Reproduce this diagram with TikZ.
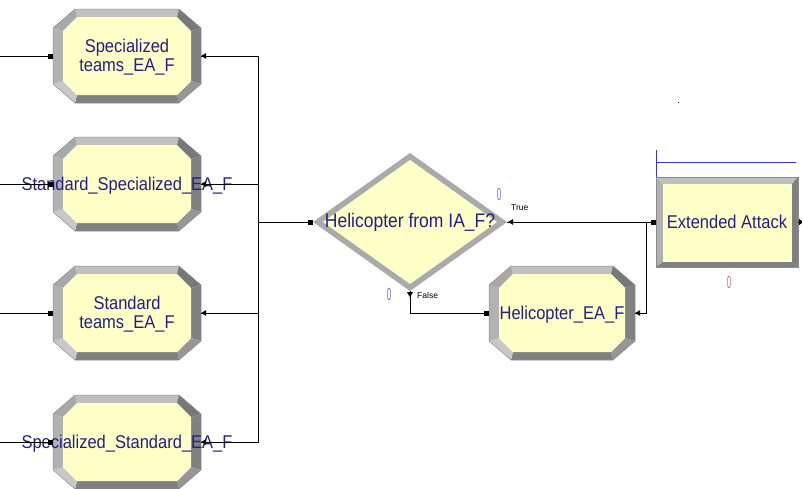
\documentclass[tikz,border=0pt]{standalone}
\usepackage{fontspec}
\setmainfont{Liberation Sans}
\usepackage{graphicx}

\definecolor{fillyel}{RGB}{255,255,200}
\definecolor{bvA}{RGB}{192,192,192}
\definecolor{bvB}{RGB}{178,178,178}
\definecolor{bvC}{RGB}{168,168,168}
\definecolor{bvD}{RGB}{200,200,200}
\definecolor{bvE}{RGB}{128,128,128}
\definecolor{bvF}{RGB}{120,120,120}
\definecolor{bvG}{RGB}{150,150,150}
\definecolor{edgegray}{RGB}{140,140,140}
\definecolor{diagray}{RGB}{170,170,170}
\definecolor{labblue}{RGB}{32,32,135}
\definecolor{cntblue}{RGB}{125,110,210}
\definecolor{cntred}{RGB}{200,120,120}
\definecolor{markblue}{RGB}{50,50,235}

% stretched text block used in the module labels
\newcommand\tallt[1]{\scalebox{1}[1.12]{\begin{tabular}{@{}c@{}}#1\end{tabular}}}
% text that may run past the module outline without widening the node
\newcommand\wide[1]{\makebox[0pt]{#1}}

% octagonal bevelled module frame: centre x, centre y, half width, half height
\newcommand\octframe[4]{%
\begin{scope}[shift={(#1,#2)}]
  \pgfmathsetmacro\oW{#3}\pgfmathsetmacro\oH{#4}
  \pgfmathsetmacro\iW{#3-10}\pgfmathsetmacro\iH{#4-8}
  \coordinate (o1) at (-\oW+22,-\oH); \coordinate (o2) at (\oW-22,-\oH);
  \coordinate (o3) at (\oW,-\oH+19);  \coordinate (o4) at (\oW,\oH-19);
  \coordinate (o5) at (\oW-22,\oH);   \coordinate (o6) at (-\oW+22,\oH);
  \coordinate (o7) at (-\oW,\oH-19);  \coordinate (o8) at (-\oW,-\oH+19);
  \coordinate (i1) at (-\iW+14,-\iH); \coordinate (i2) at (\iW-14,-\iH);
  \coordinate (i3) at (\iW,-\iH+14);  \coordinate (i4) at (\iW,\iH-14);
  \coordinate (i5) at (\iW-14,\iH);   \coordinate (i6) at (-\iW+14,\iH);
  \coordinate (i7) at (-\iW,\iH-14);  \coordinate (i8) at (-\iW,-\iH+14);
  \fill[bvA] (o1)--(o2)--(i2)--(i1)--cycle;
  \fill[bvF] (o2)--(o3)--(i3)--(i2)--cycle;
  \fill[bvE] (o3)--(o4)--(i4)--(i3)--cycle;
  \fill[bvG] (o4)--(o5)--(i5)--(i4)--cycle;
  \fill[bvE] (o5)--(o6)--(i6)--(i5)--cycle;
  \fill[bvD] (o6)--(o7)--(i7)--(i6)--cycle;
  \fill[bvB] (o7)--(o8)--(i8)--(i7)--cycle;
  \fill[bvC] (o8)--(o1)--(i1)--(i8)--cycle;
  \fill[fillyel] (i1)--(i2)--(i3)--(i4)--(i5)--(i6)--(i7)--(i8)--cycle;
  \draw[edgegray, line width=0.5pt] (o1)--(o2)--(o3)--(o4)--(o5)--(o6)--(o7)--(o8)--cycle;
\end{scope}}

\tikzset{
  modtext/.style={inner sep=0pt, text=labblue, font=\fontsize{16.5}{17}\selectfont,
    minimum width=148pt, minimum height=94pt, text depth=0pt},
  modlabel/.style={inner sep=0pt, text=labblue, font=\fontsize{16.5}{17}\selectfont, yshift=-2.5pt},
  conn/.style={black, line width=0.9pt},
  entrymark/.style={fill=black},
  exitmark/.style={fill=black},
  smalllab/.style={font=\fontsize{8.5}{9}\selectfont, inner sep=0pt},
  counter/.style={font=\fontsize{16}{16}\selectfont, inner sep=0pt},
}

\begin{document}
\begin{tikzpicture}[x=1pt, y=-1pt]
\useasboundingbox (0,0) rectangle (802,488);
\clip (0,0) rectangle (802,488);
\fill[white] (0,0) rectangle (802,488);

% ---- four process modules on the left
\octframe{127}{56}{74}{47}
\octframe{127}{184}{74}{47}
\octframe{127}{313}{74}{47}
\octframe{127}{442}{74}{47}
% ---- helicopter process module
\octframe{562}{313}{73}{47}

% ---- decision module
\fill[diagray] (313,222)--(410,153)--(507,222)--(410,291)--cycle;
\fill[fillyel] (323,222)--(410,160)--(497,222)--(410,284)--cycle;

% ---- Extended Attack module (rectangular bevel)
\fill[bvA] (656,177)--(798,177)--(792,184)--(663,184)--cycle;
\fill[bvB] (656,177)--(663,184)--(663,262)--(656,267)--cycle;
\fill[bvE] (798,177)--(798,267)--(792,262)--(792,184)--cycle;
\fill[bvE] (656,267)--(663,262)--(792,262)--(798,267)--cycle;
\fill[fillyel] (663,184) rectangle (792,262);
\draw[edgegray, line width=0.5pt] (656,177) rectangle (798,267);

% blue marker above Extended Attack
\draw[markblue, line width=0.9pt] (656,150) -- (656,177);
\draw[markblue, line width=0.9pt] (656,162) -- (796,162);
\fill[black] (677.5,101.5) rectangle (679,103);

% ---- module nodes (outline size fixed, labels on top)
\node[modtext] (b1) at (127,56) {};
\node[modtext] (b2) at (127,184) {};
\node[modtext] (b3) at (127,313) {};
\node[modtext] (b4) at (127,442) {};
\node[modtext, minimum width=146pt] (h) at (562,313) {};
\node[modtext, minimum width=194pt, minimum height=138pt] (d) at (410,222) {};
\node[modtext, minimum width=142pt, minimum height=90pt] (ea) at (727,222) {};

\node[modlabel] (t1) at (b1) {\tallt{Specialized\\teams\_EA\_F}};
\node[modlabel] (t2) at (b2) {\tallt{\wide{Standard\_Specialized\_EA\_F}}};
\node[modlabel] (t3) at (b3) {\tallt{Standard\\teams\_EA\_F}};
\node[modlabel] (t4) at (b4) {\tallt{\wide{Specialized\_Standard\_EA\_F}}};
\node[modlabel] (th) at (h) {\tallt{Helicopter\_EA\_F}};
\node[modlabel, font=\fontsize{17.5}{18}\selectfont, yshift=1pt] (td) at (d) {\tallt{Helicopter from IA\_F?}};
\node[modlabel] (tea) at (ea) {\tallt{Extended Attack}};

% free ends and bends
\coordinate (s1) at (0,56);
\coordinate (s2) at (0,184);
\coordinate (s3) at (0,313);
\coordinate (s4) at (0,442);
\coordinate (j) at (258,222);
\coordinate (m) at (646,222);
\coordinate (eaout) at (802,222);

% ---- connectors
\draw[conn] (s1) -- (b1.west);
\draw[conn] (s2) -- (b2.west);
\draw[conn] (s3) -- (b3.west);
\draw[conn] (s4) -- (b4.west);
\draw[conn] (b1.east) -| (j) -- (d.west);
\draw[conn] (b2.east) -| (j);
\draw[conn] (b3.east) -| (j);
\draw[conn] (b4.east) -| (j);
\draw[conn] (d.east) -- (ea.west);
\draw[conn] (d.south) |- (h.west);
\draw[conn] (h.east) -| (m);
\draw[conn] (ea.east) -- (eaout);

% entry squares
\foreach \n in {b1,b2,b3,b4,h,d,ea}
  \fill[entrymark] (\n.west) ++(-5,-2.5) rectangle ++(5,5);
% exit triangles
\foreach \n in {b1,b2,b3,b4,h}
  \fill[exitmark] (\n.east) -- ++(5,-3) -- ++(0,6) -- cycle;
\fill[exitmark] (ea.east) ++(1,-3) -- ++(4,3) -- ++(-4,3) -- cycle;
\fill[exitmark] (d.east) ++(1,0) -- ++(5,-3) -- ++(0,6) -- cycle;
\fill[exitmark] (d.south) ++(-3,1) -- ++(6,0) -- ++(-3,5) -- cycle;

% ---- labels and counters
\node[smalllab, anchor=west] (tl) at (511,208) {True};
\node[smalllab, anchor=west] (fl) at (417,295) {False};
\node[counter, text=cntblue] (c1) at (499,194) {\scalebox{0.5}[1.1]{0}};
\node[counter, text=cntblue] (c2) at (389,294) {\scalebox{0.5}[1.1]{0}};
\node[counter, text=cntred] (c3) at (729,282) {\scalebox{0.5}[1.1]{0}};
\end{tikzpicture}
\end{document}
